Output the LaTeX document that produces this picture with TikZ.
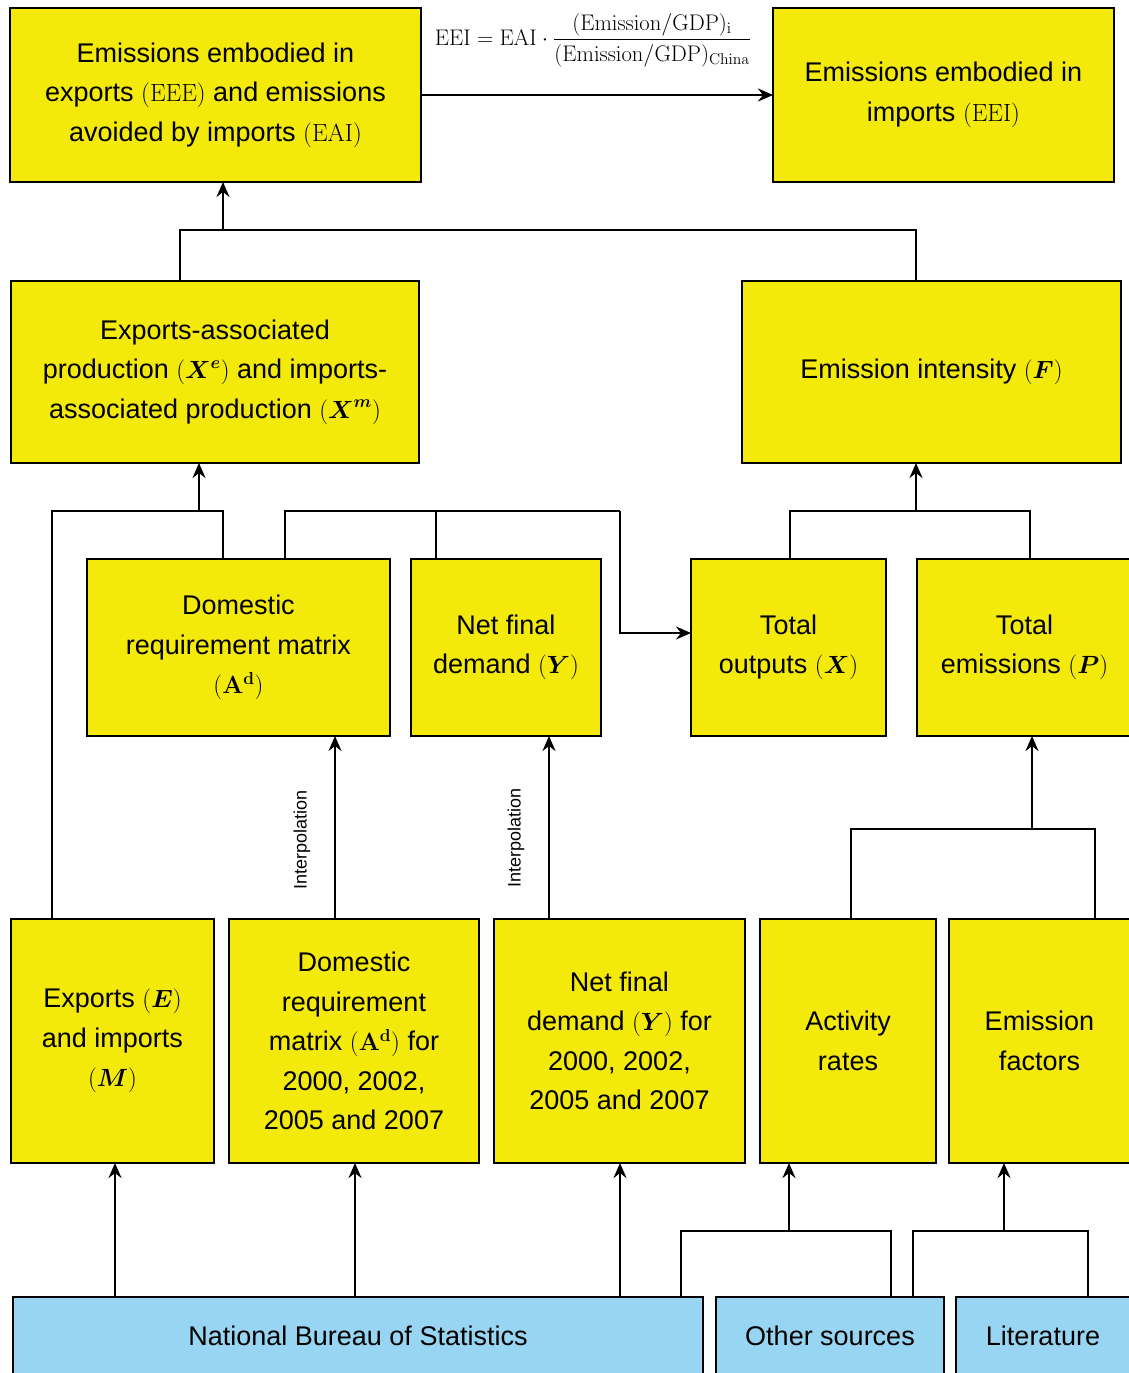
\documentclass[tikz,border=0pt]{standalone}
\usepackage{amsmath}
\usepackage{graphicx}
\usepackage[no-math]{fontspec}
\setmainfont{Liberation Sans}
\usetikzlibrary{arrows.meta}
\definecolor{byellow}{RGB}{243,234,11}
\definecolor{bblue}{RGB}{152,213,242}
\begin{document}
\begin{tikzpicture}[x=1pt,y=-1pt,
  every node/.style={inner sep=0pt,outer sep=0pt},
  ybox/.style={draw=black,line width=2.6pt,fill=byellow,align=center,
    font=\fontsize{27}{39.5}\selectfont},
  bbox/.style={draw=black,line width=2.6pt,fill=bblue,align=center,
    font=\fontsize{27}{39.5}\selectfont},
  conn/.style={draw=black,line width=2.8pt},
  arr/.style={conn,-{Stealth[length=15pt,width=13pt,inset=5pt]}},
  lbl/.style={font=\fontsize{18}{20}\selectfont,rotate=90}]
\useasboundingbox (0,0) rectangle (1128,1373);
% top row
\node[ybox,minimum width=411pt,minimum height=174pt] (eee) at (215.5,95)
  {Emissions embodied in\\exports $(\mathrm{EEE})$ and emissions\\avoided by imports $(\mathrm{EAI})$};
\node[ybox,minimum width=341pt,minimum height=174pt] (eei) at (943.5,95)
  {Emissions embodied in\\imports $(\mathrm{EEI})$};
% second row
\node[ybox,minimum width=408pt,minimum height=182pt] (xe) at (215,372)
  {Exports-associated\\production $(\boldsymbol{X}^{\boldsymbol{e}})$ and imports-\\associated production $(\boldsymbol{X}^{\boldsymbol{m}})$};
\node[ybox,minimum width=379pt,minimum height=182pt] (f) at (931.5,372)
  {Emission intensity $(\boldsymbol{F})$};
% third row
\node[ybox,minimum width=303pt,minimum height=177pt] (ad) at (238.5,647.5)
  {Domestic\\requirement matrix\\$(\mathbf{A}^{\mathbf{d}})$};
\node[ybox,minimum width=190pt,minimum height=177pt] (y) at (506,647.5)
  {Net final\\demand $(\boldsymbol{Y})$};
\node[ybox,minimum width=195pt,minimum height=177pt] (x) at (788.5,647.5)
  {Total\\outputs $(\boldsymbol{X})$};
\node[ybox,minimum width=215pt,minimum height=177pt] (p) at (1024.5,647.5)
  {Total\\emissions $(\boldsymbol{P})$};
% fourth row
\node[ybox,minimum width=203pt,minimum height=244pt] (e) at (112.5,1041)
  {Exports $(\boldsymbol{E})$\\and imports\\$(\boldsymbol{M})$};
\node[ybox,minimum width=250pt,minimum height=244pt] (ady) at (354,1041)
  {Domestic\\requirement\\matrix $(\mathbf{A}^{\mathbf{d}})$ for\\2000, 2002,\\2005 and 2007};
\node[ybox,minimum width=251pt,minimum height=244pt] (yy) at (619.5,1041)
  {Net final\\demand $(\boldsymbol{Y})$ for\\2000, 2002,\\2005 and 2007};
\node[ybox,minimum width=176pt,minimum height=244pt] (act) at (848,1041)
  {Activity\\rates};
\node[ybox,minimum width=181pt,minimum height=244pt] (ef) at (1039.5,1041)
  {Emission\\factors};
% bottom row
\node[bbox,minimum width=690pt,minimum height=78pt] (nbs) at (358,1336)
  {National Bureau of Statistics};
\node[bbox,minimum width=228pt,minimum height=78pt] (oth) at (830,1336)
  {Other sources};
\node[bbox,minimum width=174pt,minimum height=78pt] (lit) at (1043,1336)
  {Literature};
% formula
\node (frm) at (593,40) {\resizebox{316pt}{!}{\fontsize{20}{24}\selectfont
  $\mathrm{EEI}=\mathrm{EAI}\cdot\dfrac{(\mathrm{Emission/GDP})_{\mathrm{i}}}{(\mathrm{Emission/GDP})_{\mathrm{China}}}$}};
\draw[arr] (eee.east) -- (eei.west);
% bus 1
\coordinate (b1L) at (180,230); \coordinate (b1R) at (916,230); \coordinate (b1M) at (223,230);
\draw[conn] (xe.north -| b1L) -- (b1L) -- (b1R) -- (f.north -| b1R);
\draw[arr] (b1M) -- (eee.south -| b1M);
% bus 2
\coordinate (b2a) at (52,511); \coordinate (b2b) at (223,511); \coordinate (b2m) at (199,511);
\draw[conn] (e.north -| b2a) -- (b2a) -- (b2b) -- (ad.north -| b2b);
\draw[arr] (b2m) -- (xe.south -| b2m);
% bus 3
\coordinate (b3a) at (285,511); \coordinate (b3b) at (436,511); \coordinate (b3c) at (620,511); \coordinate (b3d) at (620,633);
\draw[conn] (ad.north -| b3a) -- (b3a) -- (b3c);
\draw[conn] (b3b) -- (y.north -| b3b);
\draw[arr] (b3c) -- (b3d) -- (x.west |- b3d);
% bus 4
\coordinate (b4a) at (790,511); \coordinate (b4b) at (1030,511); \coordinate (b4m) at (916,511);
\draw[conn] (x.north -| b4a) -- (b4a) -- (b4b) -- (p.north -| b4b);
\draw[arr] (b4m) -- (f.south -| b4m);
% interpolation
\coordinate (i1) at (335,830); \coordinate (i2) at (549,830);
\draw[arr] (ady.north -| i1) -- (ad.south -| i1);
\draw[arr] (yy.north -| i2) -- (y.south -| i2);
\node[lbl] (l1) at (302,840) {Interpolation};
\node[lbl] (l2) at (516,838) {Interpolation};
% bus 5
\coordinate (b5a) at (851,829); \coordinate (b5b) at (1095,829); \coordinate (b5m) at (1032,829);
\draw[conn] (act.north -| b5a) -- (b5a) -- (b5b) -- (ef.north -| b5b);
\draw[arr] (b5m) -- (p.south -| b5m);
% NBS arrows
\coordinate (n1) at (115,1230); \coordinate (n2) at (355,1230); \coordinate (n3) at (620,1230);
\draw[arr] (nbs.north -| n1) -- (e.south -| n1);
\draw[arr] (nbs.north -| n2) -- (ady.south -| n2);
\draw[arr] (nbs.north -| n3) -- (yy.south -| n3);
% bus 6
\coordinate (b6a) at (681,1231); \coordinate (b6b) at (891,1231); \coordinate (b6m) at (789,1231);
\draw[conn] (nbs.north -| b6a) -- (b6a) -- (b6b) -- (oth.north -| b6b);
\draw[arr] (b6m) -- (act.south -| b6m);
% bus 7
\coordinate (b7a) at (913,1231); \coordinate (b7b) at (1088,1231); \coordinate (b7m) at (1004,1231);
\draw[conn] (oth.north -| b7a) -- (b7a) -- (b7b) -- (lit.north -| b7b);
\draw[arr] (b7m) -- (ef.south -| b7m);
\end{tikzpicture}
\end{document}
